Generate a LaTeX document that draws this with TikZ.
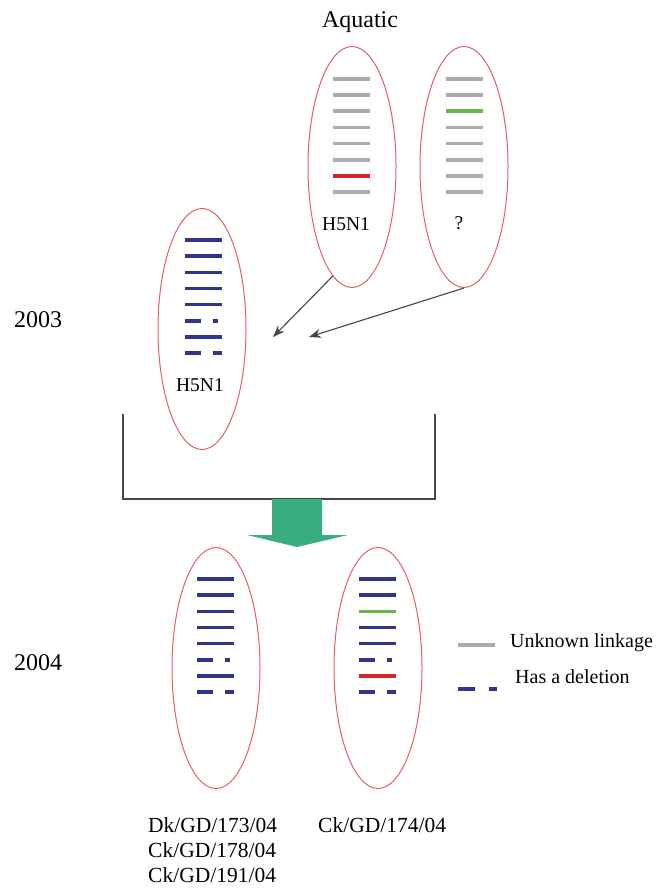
\documentclass[tikz,border=0pt]{standalone}
\usepackage{fontspec}
\setmainfont{Liberation Serif}
\usetikzlibrary{shapes.geometric,arrows.meta}
\definecolor{cellred}{RGB}{225,95,100}
\definecolor{bgray}{RGB}{172,172,172}
\definecolor{bblue}{RGB}{48,52,140}
\definecolor{bred}{RGB}{215,35,35}
\definecolor{bgreen}{RGB}{105,182,75}
\definecolor{arrgreen}{RGB}{58,172,130}
\definecolor{linkgray}{RGB}{70,70,70}
\tikzset{
  cell/.style={ellipse, draw=cellred, line width=1pt, minimum width=88pt, minimum height=241pt, inner sep=0pt},
  band/.style={line width=3.6pt, line cap=butt},
  lab/.style={font=\fontsize{19.5}{22}\selectfont, inner sep=0pt, anchor=base},
  yearlab/.style={font=\fontsize{24}{28}\selectfont, inner sep=0pt, anchor=base west},
  strain/.style={font=\fontsize{21.5}{25}\selectfont, inner sep=0pt, anchor=base west},
  leglab/.style={font=\fontsize{20}{24}\selectfont, inner sep=0pt, anchor=base west},
  link/.style={draw=linkgray, line width=1.1pt, -{Stealth[length=12pt,width=9pt]}},
}
\newcommand\bands[3]{%
  \foreach \col/\typ [count=\i from 0] in {#3}{%
    \pgfmathsetmacro\yy{#2+16.15*\i}
    \ifnum\typ=0 \draw[band,\col] (#1,\yy) -- ++(37,0);\fi
    \ifnum\typ=1 \draw[band,\col] (#1,\yy) -- ++(16,0) (#1+28,\yy) -- ++(5,0);\fi
    \ifnum\typ=2 \draw[band,\col] (#1,\yy) -- ++(16,0) (#1+28,\yy) -- ++(9,0);\fi
  }}
\begin{document}
\begin{tikzpicture}[x=1pt,y=-1pt]
\useasboundingbox (0,0) rectangle (656,888);

% title and years
\node[lab, font=\fontsize{24}{28}\selectfont] (aq) at (360,28) {Aquatic};
\node[yearlab] (y3) at (14,327) {2003};
\node[yearlab] (y4) at (14,670) {2004};

% ellipses
\node[cell] (a1) at (352,167) {};
\node[cell] (q) at (464,167) {};
\node[cell] (h3) at (202,329) {};
\node[cell] (b1) at (216,668) {};
\node[cell] (b2) at (378,668) {};

% bands
\bands{333}{79}{bgray/0,bgray/0,bgray/0,bgray/0,bgray/0,bgray/0,bred/0,bgray/0}
\bands{446}{79}{bgray/0,bgray/0,bgreen/0,bgray/0,bgray/0,bgray/0,bgray/0,bgray/0}
\bands{185}{240}{bblue/0,bblue/0,bblue/0,bblue/0,bblue/0,bblue/1,bblue/0,bblue/2}
\bands{197}{579}{bblue/0,bblue/0,bblue/0,bblue/0,bblue/0,bblue/1,bblue/0,bblue/2}
\bands{359}{579}{bblue/0,bblue/0,bgreen/0,bblue/0,bblue/0,bblue/1,bred/0,bblue/2}

% labels inside
\node[lab] (l1) at (346,230) {H5N1};
\node[lab] (l2) at (459,229) {?};
\node[lab] (l3) at (200,391) {H5N1};

% arrows
\coordinate (t1) at (273,337);
\coordinate (t2) at (309,337);
\draw[link] (a1.260) -- (t1);
\draw[link] (q.south) -- (t2);

% bracket
\draw[draw=linkgray, line width=1.2pt] (123,414) -- (123,499) -- (435,499) -- (435,414);

% big green arrow
\fill[arrgreen] (272,499) -- (322,499) -- (322,535) -- (348,535) -- (297,547) -- (247,535) -- (272,535) -- cycle;

% legend
\draw[band, bgray, line width=4pt] (458,645) -- (495,645);
\draw[band, bblue, line width=3.2pt] (458,689) -- (475,689) (489,689) -- (497,689);
\node[leglab] (lg1) at (510,647) {Unknown linkage};
\node[leglab] (lg2) at (515,683) {Has a deletion};

% strain names
\node[strain] (s1) at (148,832) {Dk/GD/173/04};
\node[strain] (s2) at (148,857) {Ck/GD/178/04};
\node[strain] (s3) at (148,882) {Ck/GD/191/04};
\node[strain] (s4) at (318,832) {Ck/GD/174/04};
\end{tikzpicture}
\end{document}
